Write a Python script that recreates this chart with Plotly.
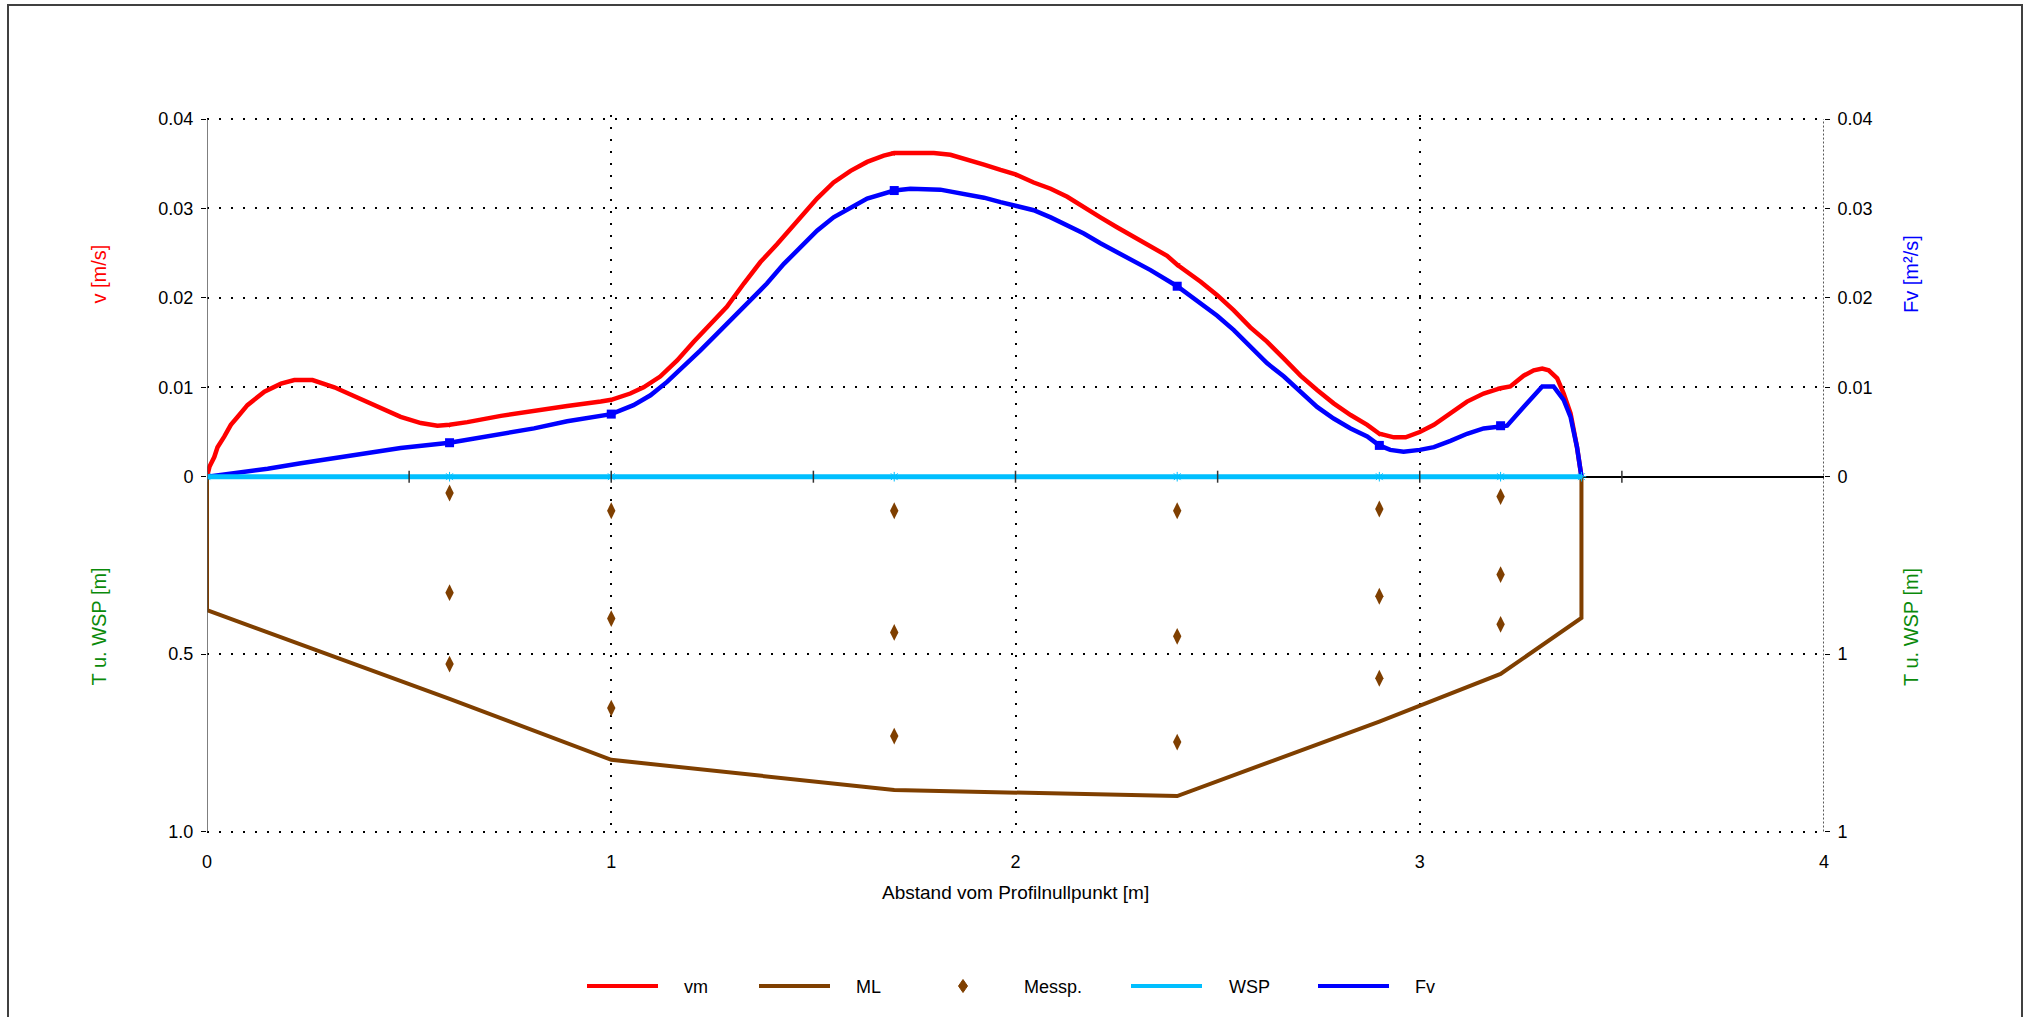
import plotly.graph_objects as go

# ---------------------------------------------------------------- data
# measuring verticals (distance from profile zero point, m)
verticals = [0.6, 1.0, 1.7, 2.4, 2.9, 3.2]

# water surface line (WSP) points
wsp_x = [0.0, 0.6, 1.0, 1.7, 2.4, 2.9, 3.2, 3.4]
wsp_depth = [0.0, 0.0, 0.0, 0.0, 0.0, 0.0, 0.0, 0.0]

# river bed (ML) outline, depth in m
ml_x = [0.0, 0.0, 0.6, 1.0, 1.7, 2.4, 2.9, 3.2, 3.4, 3.4]
ml_depth = [0.0, 0.376, 0.626, 0.798, 0.883, 0.900, 0.690, 0.556, 0.398, 0.0]

# measuring points (Messp.) per vertical, depth in m
messp_x = [0.6, 0.6, 0.6, 1.0, 1.0, 1.0, 1.7, 1.7, 1.7,
           2.4, 2.4, 2.4, 2.9, 2.9, 2.9, 3.2, 3.2, 3.2]
messp_depth = [0.046, 0.327, 0.528, 0.096, 0.400, 0.652, 0.096, 0.439, 0.731,
               0.096, 0.450, 0.748, 0.091, 0.337, 0.568, 0.056, 0.276, 0.416]

# mean velocity distribution vm [m/s]
vm_x = [0.000, 0.006, 0.018, 0.026, 0.043, 0.059, 0.076, 0.100, 0.142, 0.183,
        0.216, 0.261, 0.315, 0.397, 0.479, 0.529, 0.570, 0.600, 0.644, 0.727,
        0.809, 0.891, 0.974, 1.000, 1.047, 1.080, 1.121, 1.163, 1.204, 1.245,
        1.286, 1.328, 1.369, 1.410, 1.468, 1.509, 1.550, 1.592, 1.633, 1.674,
        1.700, 1.798, 1.839, 1.880, 1.922, 1.963, 2.000, 2.045, 2.087, 2.128,
        2.169, 2.210, 2.251, 2.293, 2.334, 2.375, 2.400, 2.458, 2.499, 2.540,
        2.581, 2.622, 2.664, 2.705, 2.746, 2.787, 2.829, 2.870, 2.900, 2.936,
        2.965, 3.000, 3.035, 3.076, 3.117, 3.158, 3.200, 3.224, 3.257, 3.282,
        3.303, 3.319, 3.340, 3.356, 3.373, 3.389, 3.400]
vm_v = [0.0000, 0.0011, 0.0022, 0.0033, 0.0045, 0.0058, 0.0067, 0.0080, 0.0095, 0.0104,
        0.0108, 0.0108, 0.0100, 0.0084, 0.0067, 0.0060, 0.0057, 0.0058, 0.0061, 0.0068,
        0.0074, 0.0079, 0.0084, 0.0086, 0.0093, 0.0100, 0.0112, 0.0130, 0.0151, 0.0171,
        0.0190, 0.0216, 0.0240, 0.0260, 0.0290, 0.0311, 0.0329, 0.0342, 0.0352, 0.0359,
        0.0362, 0.0362, 0.0360, 0.0355, 0.0349, 0.0343, 0.0338, 0.0329, 0.0322, 0.0313,
        0.0301, 0.0290, 0.0279, 0.0268, 0.0257, 0.0247, 0.0237, 0.0218, 0.0203, 0.0186,
        0.0167, 0.0151, 0.0132, 0.0113, 0.0097, 0.0082, 0.0069, 0.0058, 0.0048, 0.0044,
        0.0044, 0.0050, 0.0058, 0.0071, 0.0084, 0.0093, 0.0099, 0.0101, 0.0113, 0.0119,
        0.0121, 0.0119, 0.0110, 0.0093, 0.0071, 0.0033, 0.0000]

# specific discharge distribution Fv [m²/s]
fv_x = [0.000, 0.068, 0.150, 0.232, 0.315, 0.397, 0.479, 0.600, 0.727, 0.809,
        0.891, 1.000, 1.055, 1.097, 1.138, 1.179, 1.220, 1.262, 1.303, 1.344,
        1.385, 1.427, 1.468, 1.509, 1.550, 1.592, 1.633, 1.700, 1.740, 1.814,
        1.880, 1.922, 1.963, 2.000, 2.045, 2.087, 2.128, 2.169, 2.210, 2.251,
        2.293, 2.334, 2.400, 2.458, 2.499, 2.540, 2.581, 2.622, 2.664, 2.705,
        2.746, 2.787, 2.829, 2.870, 2.900, 2.927, 2.960, 3.000, 3.035, 3.076,
        3.117, 3.158, 3.200, 3.216, 3.257, 3.282, 3.303, 3.331, 3.356, 3.373,
        3.389, 3.400]
fv_q = [0.0000, 0.0004, 0.0009, 0.0015, 0.0021, 0.0027, 0.0032, 0.0038, 0.0048, 0.0054,
        0.0062, 0.0070, 0.0080, 0.0091, 0.0106, 0.0123, 0.0141, 0.0160, 0.0179, 0.0197,
        0.0216, 0.0238, 0.0257, 0.0275, 0.0290, 0.0301, 0.0311, 0.0320, 0.0322, 0.0321,
        0.0316, 0.0312, 0.0307, 0.0303, 0.0298, 0.0290, 0.0281, 0.0272, 0.0261, 0.0251,
        0.0242, 0.0231, 0.0213, 0.0193, 0.0180, 0.0164, 0.0145, 0.0127, 0.0112, 0.0095,
        0.0078, 0.0065, 0.0054, 0.0045, 0.0035, 0.0030, 0.0028, 0.0030, 0.0033, 0.0040,
        0.0048, 0.0054, 0.0057, 0.0057, 0.0078, 0.0091, 0.0101, 0.0101, 0.0086, 0.0067,
        0.0033, 0.0000]

# axis ticks
x_ticks = [0, 1, 2, 3, 4]
v_ticks = [0, 0.01, 0.02, 0.03, 0.04]
v_labels = ["0", "0.01", "0.02", "0.03", "0.04"]
depth_ticks = [0.5, 1.0]
depth_labels_left = ["0.5", "1.0"]
depth_labels_right = ["1", "1"]

# ---------------------------------------------------------------- styling
FONT = "Liberation Sans, Arial, sans-serif"
RED = "#FF0000"
BLUE = "#0000FF"
BROWN = "#7F3F00"
SKY = "#00BFFF"
GREEN = "#0A8A0A"

W, H = 2026, 1017
# pixel rows of the top grid line (0.04), the zero line and the bottom grid line (1.0)
PY_TOP, PY_ZERO, PY_BOT = 119.0, 476.7, 831.5
ML_, MR_, MT_, MB_ = 207, 202, 115, 182
PW = W - ML_ - MR_
PH = H - MT_ - MB_


def px_x(px):
    return (px - ML_) / PW


def px_y(py):
    return (H - MB_ - py) / PH


# velocity axis: 0.04 at the top grid line, zero on the middle line
v_per_px = 0.04 / (PY_ZERO - PY_TOP)
v_range = [-(H - MB_ - PY_ZERO) * v_per_px, (PY_ZERO - MT_) * v_per_px]
# depth axis (reversed): 0 on the middle line, 1.0 at the bottom grid line
d_per_px = 1.0 / (PY_BOT - PY_ZERO)
d_range = [(H - MB_ - PY_ZERO) * d_per_px, -(PY_ZERO - MT_) * d_per_px]


def values_at(xs, ys, picks):
    return [ys[xs.index(p)] for p in picks]


fig = go.Figure()

fig.add_trace(go.Scatter(
    x=wsp_x, y=wsp_depth, yaxis="y4", name="WSP", mode="lines+markers",
    line=dict(color=SKY, width=5),
    marker=dict(symbol="asterisk-open", size=8, line=dict(color=SKY, width=1)),
    showlegend=False))

fig.add_trace(go.Scatter(
    x=ml_x, y=ml_depth, yaxis="y2", name="ML", mode="lines",
    line=dict(color=BROWN, width=4), showlegend=False))

fig.add_trace(go.Scatter(
    x=messp_x, y=messp_depth, yaxis="y2", name="Messp.", mode="markers",
    marker=dict(symbol="diamond-tall", size=12, color=BROWN), showlegend=False))

fig.add_trace(go.Scatter(
    x=fv_x, y=fv_q, yaxis="y3", name="Fv", mode="lines",
    line=dict(color=BLUE, width=4.5), showlegend=False))
fig.add_trace(go.Scatter(
    x=verticals, y=values_at(fv_x, fv_q, verticals), yaxis="y3", mode="markers",
    marker=dict(symbol="square", size=9, color=BLUE), showlegend=False))

fig.add_trace(go.Scatter(
    x=vm_x, y=vm_v, yaxis="y", name="vm", mode="lines",
    line=dict(color=RED, width=4.5), showlegend=False))
fig.add_trace(go.Scatter(
    x=verticals, y=values_at(vm_x, vm_v, verticals), yaxis="y", mode="markers",
    marker=dict(symbol="triangle-down", size=6, color=RED), showlegend=False))

grid = dict(showgrid=True, gridcolor="#000000", gridwidth=2, griddash="2px,10px")
tickfont = dict(family=FONT, size=18, color="#000000")

fig.update_layout(
    width=W, height=H,
    margin=dict(l=ML_, r=MR_, t=MT_, b=MB_, autoexpand=False),
    paper_bgcolor="white", plot_bgcolor="white",
    font=dict(family=FONT, size=18, color="#000000"),
    showlegend=False,
    xaxis=dict(range=[0, 4], tickvals=x_ticks, ticks="", showline=False,
               zeroline=False, tickfont=tickfont, ticklabelstandoff=14, **grid),
    yaxis=dict(range=v_range, tickvals=v_ticks, ticktext=v_labels,
               ticks="outside", ticklen=5, tickcolor="#000000", tickwidth=1,
               showline=False, zeroline=True, zerolinecolor="#000000",
               zerolinewidth=1.5, tickfont=tickfont, ticklabelstandoff=4, **grid),
    yaxis2=dict(range=d_range, overlaying="y", side="left", tickvals=depth_ticks,
                ticktext=depth_labels_left, ticks="outside", ticklen=5,
                tickcolor="#000000", showline=False, zeroline=False,
                tickfont=tickfont, ticklabelstandoff=4, **grid),
    yaxis3=dict(range=v_range, overlaying="y", side="right", tickvals=v_ticks,
                ticktext=v_labels, ticks="outside", ticklen=5, tickcolor="#000000",
                showgrid=False, showline=False, zeroline=False,
                tickfont=tickfont, ticklabelstandoff=4),
    yaxis4=dict(range=d_range, overlaying="y", side="right", tickvals=depth_ticks,
                ticktext=depth_labels_right, ticks="outside", ticklen=5,
                tickcolor="#000000", showgrid=False, showline=False, zeroline=False,
                tickfont=tickfont, ticklabelstandoff=4),
)

shapes = []
# left axis line (solid) between the outer grid lines
shapes.append(dict(type="line", xref="x", yref="paper", x0=0, x1=0,
                   y0=px_y(PY_BOT), y1=px_y(PY_TOP),
                   line=dict(color="#555555", width=1.5)))
# right-hand axis line (dotted)
shapes.append(dict(type="line", xref="x", yref="paper", x0=4, x1=4,
                   y0=px_y(PY_BOT), y1=px_y(PY_TOP),
                   line=dict(color="#222222", width=1.5, dash="2px,2px")))
# small tick marks across the zero line
for t in [0.5, 1, 1.5, 2, 2.5, 3, 3.5]:
    shapes.append(dict(type="line", xref="x", yref="y", x0=t, x1=t,
                       ysizemode="pixel", yanchor=0, y0=-6, y1=6,
                       line=dict(color="#333333", width=1.5)))
# outer frame
shapes.append(dict(type="rect", xref="paper", yref="paper",
                   x0=px_x(8), x1=px_x(2022), y0=px_y(1030), y1=px_y(5),
                   line=dict(color="#404040", width=2), fillcolor="rgba(0,0,0,0)"))

annotations = []
# axis titles
annotations.append(dict(text="Abstand vom Profilnullpunkt [m]", xref="paper", yref="paper",
                        x=px_x(1015), y=px_y(892), showarrow=False,
                        xanchor="center", yanchor="middle",
                        font=dict(family=FONT, size=19, color="#000000")))
for txt, col, xp, yp in [("v [m/s]", RED, 98.5, 274),
                         ("Fv [m²/s]", BLUE, 1911, 274),
                         ("T u. WSP [m]", GREEN, 98.5, 627),
                         ("T u. WSP [m]", GREEN, 1911, 627)]:
    annotations.append(dict(text=txt, xref="paper", yref="paper", x=px_x(xp), y=px_y(yp),
                            showarrow=False, textangle=-90, xanchor="center",
                            yanchor="middle", font=dict(family=FONT, size=20, color=col)))

# legend row
leg_y = 986
legend_items = [("vm", "line", RED, 587, 682),
                ("ML", "line", BROWN, 759, 854),
                ("Messp.", "diamond", BROWN, 963, 1022),
                ("WSP", "line", SKY, 1131, 1227),
                ("Fv", "line", BLUE, 1318, 1413)]
for label, kind, col, sx, tx in legend_items:
    if kind == "line":
        shapes.append(dict(type="line", xref="paper", yref="paper",
                           x0=px_x(sx), x1=px_x(sx + 71), y0=px_y(leg_y), y1=px_y(leg_y),
                           line=dict(color=col, width=4)))
    else:
        path = "M {} {} L {} {} L {} {} L {} {} Z".format(
            px_x(sx), px_y(leg_y - 6.5), px_x(sx + 4.5), px_y(leg_y),
            px_x(sx), px_y(leg_y + 6.5), px_x(sx - 4.5), px_y(leg_y))
        shapes.append(dict(type="path", xref="paper", yref="paper", path=path,
                           fillcolor=col, line=dict(color=col, width=1)))
    annotations.append(dict(text=label, xref="paper", yref="paper",
                            x=px_x(tx), y=px_y(leg_y + 1), showarrow=False,
                            xanchor="left", yanchor="middle",
                            font=dict(family=FONT, size=18, color="#000000")))

fig.update_layout(shapes=shapes, annotations=annotations)

fig.write_html("out.html")
